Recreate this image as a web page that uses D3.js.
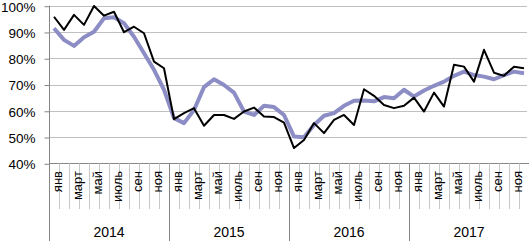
<!DOCTYPE html>
<html>
<head>
<meta charset="utf-8">
<script src="https://cdn.jsdelivr.net/npm/d3@7"></script>
<style>
  body { margin: 0; background: #fff; }
  text { font-family: "Liberation Sans", Arial, sans-serif; fill: #000; }
  .grid line { stroke: #c0c0c0; stroke-width: 1; }
</style>
</head>
<body>
<div id="chart"></div>
<script>
var years = ["2014", "2015", "2016", "2017"];
var months = ["янв", "фев", "март", "апр", "май", "июнь", "июль", "авг", "сен", "окт", "ноя", "дек"];
var yTicks = [40, 50, 60, 70, 80, 90, 100];

// black series
var seriesBlack = [
  95.8, 90.8, 96.5, 92.7, 99.9, 96.2, 97.7, 89.9, 92.0, 89.5, 78.7, 76.2,
  56.8, 59.1, 61.0, 54.3, 58.4, 58.4, 56.9, 59.7, 61.2, 57.8, 57.6, 55.5,
  45.8, 48.9, 55.3, 51.5, 56.5, 58.4, 54.6, 68.2, 65.7, 62.2, 61.0, 61.9,
  65.0, 59.7, 66.9, 61.6, 77.5, 76.8, 71.1, 83.2, 74.5, 73.3, 76.8, 76.2
];
// light purple series
var seriesPurple = [
  91.4, 87.0, 84.7, 88.0, 90.1, 95.2, 95.6, 93.3, 88.2, 81.9, 75.6, 68.0,
  57.2, 55.3, 60.3, 69.0, 72.0, 69.8, 66.9, 59.7, 58.4, 61.9, 61.4, 58.4,
  50.2, 49.9, 54.6, 58.1, 59.1, 61.9, 63.8, 63.9, 63.6, 65.2, 64.8, 68.0,
  65.4, 67.7, 69.5, 71.1, 73.3, 74.9, 73.6, 73.0, 72.0, 73.6, 74.9, 74.3
];

function init(){
  var w = 529;
  var h = 241;
  var left = 49;
  var right = 529;
  var top = 5.7;
  var bottom = 163.3;

  var cats = [];
  years.forEach(function(y){
    months.forEach(function(m){ cats.push(y + "-" + m); });
  });

  var svg = d3.select("#chart")
    .append("svg")
    .attr("width", w)
    .attr("height", h);

  var xScale = d3.scaleBand()
    .domain(cats)
    .range([left, right]);

  var yearScale = d3.scaleBand()
    .domain(years)
    .range([left, right]);

  var yScale = d3.scaleLinear()
    .domain([40, 100])
    .range([bottom, top]);

  // gridlines
  svg.append("g")
    .attr("class", "grid")
    .selectAll("line")
    .data(yTicks.slice(1))
    .enter()
    .append("line")
    .attr("x1", left)
    .attr("x2", right - 2)
    .attr("y1", function(d){ return Math.round(yScale(d)) + 0.5; })
    .attr("y2", function(d){ return Math.round(yScale(d)) + 0.5; });

  // y axis
  var yAxis = d3.axisLeft(yScale)
    .tickValues(yTicks)
    .tickSize(5)
    .tickPadding(9)
    .tickFormat(function(d){ return d + "%"; });

  var gy = svg.append("g")
    .attr("transform", "translate(" + (left + 0.5) + ",0.5)")
    .call(yAxis);
  gy.select(".domain").remove();
  gy.selectAll(".tick line").attr("stroke", "#868686");
  gy.selectAll("text")
    .style("font-size", "13.5px")
    .attr("fill", "#000")
    .attr("dy", "0.36em");
  svg.append("line")
    .attr("x1", left + 0.5).attr("x2", left + 0.5)
    .attr("y1", top).attr("y2", h)
    .attr("stroke", "#868686");

  // x axis line
  svg.append("line")
    .attr("x1", left).attr("x2", right)
    .attr("y1", Math.round(bottom) + 0.5).attr("y2", Math.round(bottom) + 0.5)
    .attr("stroke", "#868686");

  // month tick separators
  svg.append("g")
    .selectAll("line")
    .data(cats.slice(1))
    .enter()
    .append("line")
    .attr("x1", function(d){ return Math.round(xScale(d)) + 0.5; })
    .attr("x2", function(d){ return Math.round(xScale(d)) + 0.5; })
    .attr("y1", bottom)
    .attr("y2", function(d){ return d.split("-")[1] == months[0] ? h : 209; })
    .attr("stroke", function(d){ return d.split("-")[1] == months[0] ? "#868686" : "#c8c8c8"; });

  // month labels (every other month)
  svg.append("g")
    .selectAll("text")
    .data(cats.filter(function(d, i){ return i % 2 == 0; }))
    .enter()
    .append("text")
    .attr("transform", function(d){
      var x = xScale(d) + xScale.bandwidth() / 2 + 3;
      return "translate(" + x + ",171) rotate(-90)";
    })
    .attr("text-anchor", "end")
    .attr("dy", "0.36em")
    .style("font-size", "13px")
    .text(function(d){ return d.split("-")[1]; });

  // year labels
  svg.append("g")
    .selectAll("text")
    .data(years)
    .enter()
    .append("text")
    .attr("x", function(d){ return yearScale(d) + yearScale.bandwidth() / 2; })
    .attr("y", 237)
    .attr("text-anchor", "middle")
    .style("font-size", "14px")
    .text(function(d){ return d; });

  var line = d3.line()
    .x(function(d, i){ return xScale(cats[i]) + xScale.bandwidth() / 2; })
    .y(function(d){ return yScale(d); });

  svg.append("path")
    .datum(seriesPurple)
    .attr("fill", "none")
    .attr("stroke", "#8d8dc6")
    .attr("stroke-width", 4)
    .attr("stroke-linejoin", "round")
    .attr("d", line);

  svg.append("path")
    .datum(seriesBlack)
    .attr("fill", "none")
    .attr("stroke", "#000")
    .attr("stroke-width", 2)
    .attr("stroke-linejoin", "round")
    .attr("d", line);
}

window.onload = init;
</script>
</body>
</html>
